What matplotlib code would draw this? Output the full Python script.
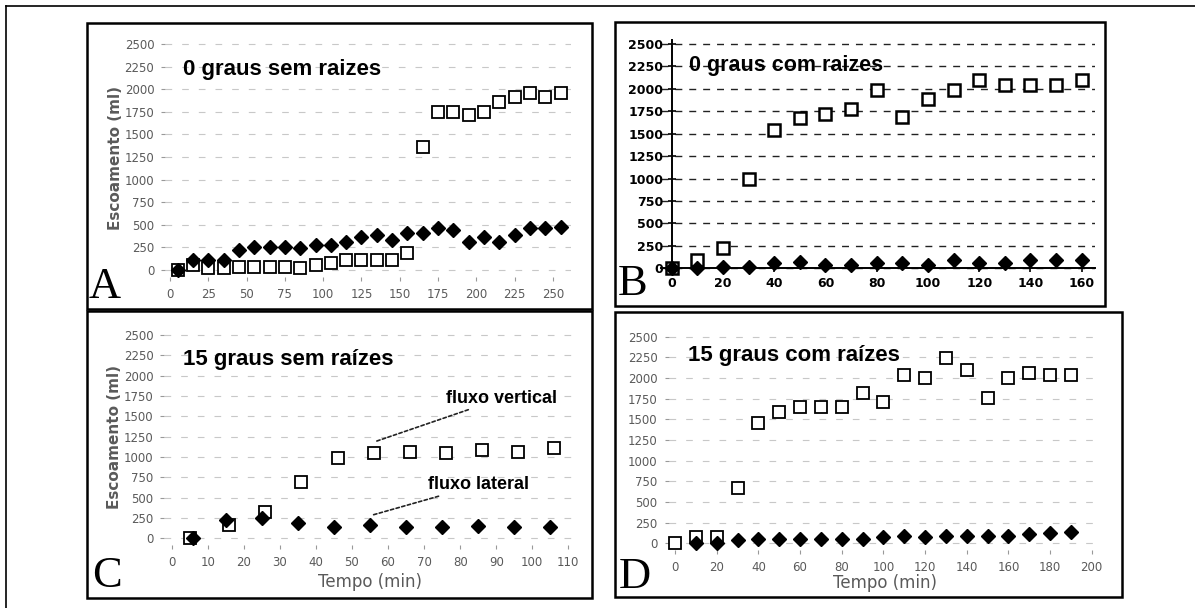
import numpy as np
import matplotlib
matplotlib.use('Agg')
import matplotlib.pyplot as plt
from matplotlib.lines import Line2D
from matplotlib.patches import Rectangle

# Panel A - 0 graus sem raizes
a_x = [5, 15, 25, 35, 45, 55, 65, 75, 85, 95, 105, 115, 125, 135, 145, 155, 165,
       175, 185, 195, 205, 215, 225, 235, 245, 255]
a_vert = [0, 60, 20, 20, 37, 37, 37, 37, 20, 55, 74, 110, 110, 110, 110, 185, 1365,
          1753, 1753, 1716, 1753, 1863, 1919, 1956, 1919, 1956]
a_lat = [0, 110, 110, 110, 221, 258, 258, 258, 240, 277, 277, 314, 369, 387, 332, 406,
         406, 461, 443, 314, 369, 314, 387, 461, 461, 480]

# Panel B - 0 graus com raizes
b_x = [0, 10, 20, 30, 40, 50, 60, 70, 80, 90, 100, 110, 120, 130, 140, 150, 160]
b_vert = [0, 93, 223, 1000, 1540, 1670, 1725, 1780, 1985, 1688, 1892, 1985, 2096,
          2040, 2040, 2040, 2096]
b_lat = [0, 0, 20, 20, 55, 75, 37, 37, 55, 55, 37, 93, 55, 55, 93, 93, 93]

# Panel C - 15 graus sem raizes
c_x_vert = [5, 16, 26, 36, 46, 56, 66, 76, 86, 96, 106]
c_vert = [0, 164, 328, 697, 984, 1045, 1066, 1045, 1086, 1066, 1107]
c_x_lat = [6, 15, 25, 35, 45, 55, 65, 75, 85, 95, 105]
c_lat = [0, 225, 246, 184, 143, 164, 143, 143, 152, 143, 143]

# Panel D - 15 graus com raizes
d_x_vert = [0, 10, 20, 30, 40, 50, 60, 70, 80, 90, 100, 110, 120, 130, 140, 150,
            160, 170, 180, 190]
d_vert = [0, 80, 80, 665, 1450, 1593, 1653, 1653, 1653, 1814, 1713, 2036, 1996,
          2238, 2096, 1754, 1996, 2056, 2036, 2036]
d_x_lat = [10, 20, 30, 40, 50, 60, 70, 80, 90, 100, 110, 120, 130, 140, 150, 160,
           170, 180, 190]
d_lat = [0, 0, 40, 48, 48, 48, 48, 48, 48, 72, 88, 72, 88, 88, 88, 88, 113, 129, 141]

y_ticks = np.arange(0, 2501, 250)

W, H = 1195, 608
fig = plt.figure(figsize=(W / 100, H / 100), dpi=100)
fig.patch.set_facecolor('white')


def place(xa, xpa, xb, xpb, ya, ypa, yb, ypb, xlim, ylim):
    # axes rectangle from pixel anchors of two data values on each axis
    sx = (xpb - xpa) / (xb - xa)
    sy = (ypb - ypa) / (yb - ya)
    left = xpa + (xlim[0] - xa) * sx
    right = xpa + (xlim[1] - xa) * sx
    bottom = ypa + (ylim[0] - ya) * sy
    top = ypa + (ylim[1] - ya) * sy
    ax = fig.add_axes([left / W, 1 - bottom / H, (right - left) / W, (bottom - top) / H])
    ax.set_xlim(xlim)
    ax.set_ylim(ylim)
    ax.patch.set_alpha(0)
    return ax


def box(x0, y0, x1, y1, lw=1.8):
    fig.add_artist(Rectangle((x0 / W, 1 - y1 / H), (x1 - x0) / W, (y1 - y0) / H,
                             transform=fig.transFigure, fill=False, lw=lw, ec='black'))


def ftext(x, y, s, **kw):
    fig.text(x / W, 1 - y / H, s, **kw)


# outer frame (top and left edges of the scan)
fig.add_artist(Line2D([6 / W, 1], [1 - 6 / H, 1 - 6 / H], transform=fig.transFigure,
                      color='black', lw=1.2))
fig.add_artist(Line2D([6 / W, 6 / W], [0, 1 - 6 / H], transform=fig.transFigure,
                      color='black', lw=1.2))

box(87, 23, 592, 309)
box(615, 22, 1105, 306)
box(87, 311, 592, 598)
box(615, 312, 1122, 597)

sq = dict(ls='none', marker='s', mfc='white', mec='black', ms=8.5, mew=1.3, clip_on=False)
dm = dict(ls='none', marker='D', color='black', ms=6.8, clip_on=False)
gray = '#5a5a5a'
title_kw = dict(fontsize=16, fontweight='bold', family='Liberation Sans', va='center')


def soft(ax, xticks):
    for s in ax.spines.values():
        s.set_visible(False)
    ax.set_xticks(xticks)
    ax.set_yticks(y_ticks)
    ax.tick_params(length=3, width=0.8, color='#999999', labelsize=8.5,
                   labelcolor=gray, pad=5)
    ax.grid(axis='y', color='#c8c8c8', ls=(0, (6, 9)), lw=0.8)
    ax.set_axisbelow(True)


# ---- A ----
axA = place(0, 170, 250, 553, 0, 270, 2500, 44, (-3, 262), (-80, 2560))
soft(axA, np.arange(0, 251, 25))
axA.plot(a_x, a_vert, **sq)
axA.plot(a_x, a_lat, **dm)
axA.set_ylabel('Escoamento (ml)', fontsize=11, fontweight='bold', color=gray, labelpad=1)
ftext(183, 70, '0 graus sem raizes', **title_kw)
ftext(89, 287, 'A', fontsize=32, family='Liberation Serif', va='center')

# ---- B ----
axB = place(0, 671.7, 160, 1081.7, 0, 268.3, 2500, 44, (-4, 165), (-40, 2540))
for s in ['top', 'right']:
    axB.spines[s].set_visible(False)
axB.spines['left'].set_position(('data', 0))
axB.spines['bottom'].set_position(('data', 0))
axB.spines['left'].set_linewidth(1.4)
axB.spines['bottom'].set_linewidth(1.4)
axB.set_xticks(np.arange(0, 161, 20))
axB.set_yticks(y_ticks)
axB.tick_params(direction='inout', length=6, width=1.2, labelsize=9, pad=3)
for lab in axB.get_xticklabels() + axB.get_yticklabels():
    lab.set_fontweight('bold')
axB.grid(axis='y', color='#222222', ls=(0, (5, 5)), lw=1.0)
axB.set_axisbelow(True)
axB.plot(b_x, b_vert, **dict(sq, mew=1.8))
axB.plot(b_x, b_lat, **dm)
ftext(689, 66, '0 graus com raizes', **dict(title_kw, fontsize=15.5))
ftext(618, 284, 'B', fontsize=32, family='Liberation Serif', va='center')

# ---- C ----
axC = place(0, 171.7, 110, 568.3, 0, 538.3, 2500, 335, (-2, 112), (-80, 2560))
soft(axC, np.arange(0, 111, 10))
axC.plot(c_x_vert, c_vert, **sq)
axC.plot(c_x_lat, c_lat, **dm)
axC.set_ylabel('Escoamento (ml)', fontsize=11, fontweight='bold', color=gray, labelpad=1)
axC.set_xlabel('Tempo (min)', fontsize=12, color=gray, labelpad=3)
arrow_kw = dict(arrowstyle='-', ls=(0, (2, 1.5)), lw=1.2, color='#222222',
                shrinkA=0, shrinkB=0)
axC.annotate('fluxo vertical', xy=(56.5, 1190), xytext=(76, 1720), fontsize=13,
             fontweight='bold', family='Liberation Sans', va='center',
             arrowprops=arrow_kw)
axC.annotate('fluxo lateral', xy=(56, 290), xytext=(71, 656), fontsize=13,
             fontweight='bold', family='Liberation Sans', va='center',
             arrowprops=arrow_kw)
ftext(183, 360, '15 graus sem raízes', **title_kw)
ftext(92, 576, 'C', fontsize=32, family='Liberation Serif', va='center')

# ---- D ----
axD = place(0, 675, 200, 1091.7, 0, 543.3, 2500, 336.7, (-3, 205), (-80, 2560))
soft(axD, np.arange(0, 201, 20))
axD.plot(d_x_vert, d_vert, **sq)
axD.plot(d_x_lat, d_lat, **dm)
axD.set_xlabel('Tempo (min)', fontsize=12, color=gray, labelpad=0)
ftext(688, 355, '15 graus com raízes', **title_kw)
ftext(619, 577, 'D', fontsize=32, family='Liberation Serif', va='center')

plt.savefig('out.png', dpi=100, facecolor='white')
